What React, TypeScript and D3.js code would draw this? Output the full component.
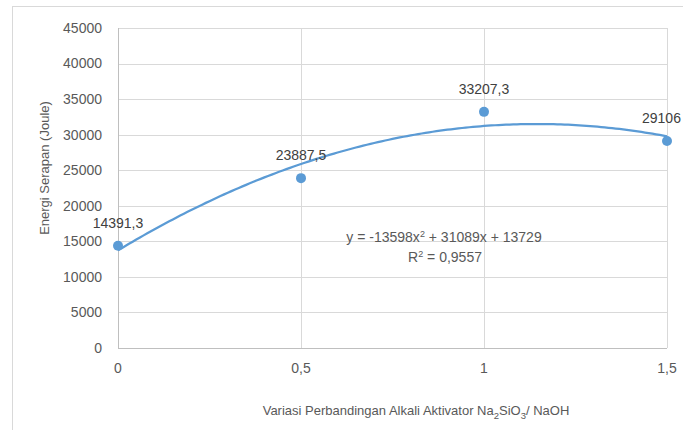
import React from "react";
import * as d3 from "d3";

const xValues = [0, 0.5, 1, 1.5];
const yValues = [14391.3, 23887.5, 33207.3, 29106.2];
const dataLabels = ["14391,3", "23887,5", "33207,3", "29106"];
const xTicks = [0, 0.5, 1, 1.5];
const xTickLabels = ["0", "0,5", "1", "1,5"];
const yTicks = [0, 5000, 10000, 15000, 20000, 25000, 30000, 35000, 40000, 45000];
const trendCoef = [-13598, 31089, 13729];

const W = 683;
const H = 430;
const FONT = "'Liberation Sans', Arial, sans-serif";
const TEXT = "#595959";
const GRID = "#d9d9d9";
const BLUE = "#5B9BD5";

export default function App() {
  const x = d3.scaleLinear().domain([0, 1.5]).range([118, 667]);
  const y = d3.scaleLinear().domain([0, 45000]).range([348, 28]);
  const trendX = d3.range(0, 1.5001, 0.01);
  const trend = d3
    .line<number>()
    .x((d) => x(d))
    .y((d) => y(trendCoef[0] * d * d + trendCoef[1] * d + trendCoef[2]))
    .curve(d3.curveLinear);

  return (
    <svg
      width={W}
      height={H}
      style={{ position: "absolute", left: 0, top: 0, background: "#fff" }}
    >
      <rect x={0} y={0} width={W} height={H} fill="#fff" />
      <rect x={12.5} y={6.5} width={W + 20} height={H + 20} fill="none" stroke={GRID} strokeWidth={1} />
      {yTicks.map((t) => (
        <g key={"y" + t}>
          <line x1={x(0)} x2={x(1.5)} y1={Math.round(y(t)) + 0.5} y2={Math.round(y(t)) + 0.5} stroke={GRID} strokeWidth={1} />
          <text
            x={102}
            y={y(t)}
            dy="0.35em"
            textAnchor="end"
            fontFamily={FONT}
            fontSize={14}
            fill={TEXT}
          >
            {t}
          </text>
        </g>
      ))}
      {xTicks.map((t, i) => (
        <g key={"x" + t}>
          <line x1={Math.round(x(t)) + 0.5} x2={Math.round(x(t)) + 0.5} y1={y(45000)} y2={y(0)} stroke={GRID} strokeWidth={1} />
          <text
            x={x(t)}
            y={368}
            dy="0.35em"
            textAnchor="middle"
            fontFamily={FONT}
            fontSize={14}
            fill={TEXT}
          >
            {xTickLabels[i]}
          </text>
        </g>
      ))}
      <line x1={x(0)} x2={x(1.5)} y1={Math.round(y(0)) + 0.5} y2={Math.round(y(0)) + 0.5} stroke="#bfbfbf" />
      <line x1={Math.round(x(0)) + 0.5} x2={Math.round(x(0)) + 0.5} y1={y(45000)} y2={y(0)} stroke="#bfbfbf" />

      <path d={trend(trendX) || ""} fill="none" stroke={BLUE} strokeWidth={2.25} />
      {xValues.map((xv, i) => (
        <circle key={"p" + i} cx={x(xv)} cy={y(yValues[i])} r={5} fill={BLUE} />
      ))}
      {xValues.map((xv, i) => (
        <text
          key={"l" + i}
          x={x(xv)}
          y={y(yValues[i]) - 23}
          dy="0.35em"
          textAnchor={i === 3 ? "start" : "middle"}
          dx={i === 3 ? -25 : 0}
          fontFamily={FONT}
          fontSize={14}
          fill="#404040"
        >
          {dataLabels[i]}
        </text>
      ))}

      <text x={444} y={237} dy="0.35em" textAnchor="middle" fontFamily={FONT} fontSize={14} fill={TEXT}>
        y = -13598x<tspan dy="-5" fontSize={9}>2</tspan>
        <tspan dy="5"> + 31089x + 13729</tspan>
      </text>
      <text x={445} y={257} dy="0.35em" textAnchor="middle" fontFamily={FONT} fontSize={14} fill={TEXT}>
        R<tspan dy="-5" fontSize={9}>2</tspan>
        <tspan dy="5"> = 0,9557</tspan>
      </text>

      <text
        transform={`translate(44,168) rotate(-90)`}
        textAnchor="middle"
        dy="0.35em"
        fontFamily={FONT}
        fontSize={13}
        fill={TEXT}
      >
        Energi Serapan (Joule)
      </text>
      <text x={416} y={410} dy="0.35em" textAnchor="middle" fontFamily={FONT} fontSize={13} fill={TEXT}>
        Variasi Perbandingan Alkali Aktivator Na<tspan dy="4" fontSize={9.5}>2</tspan>
        <tspan dy="-4">SiO</tspan>
        <tspan dy="4" fontSize={9.5}>3</tspan>
        <tspan dy="-4">/ NaOH</tspan>
      </text>
    </svg>
  );
}
